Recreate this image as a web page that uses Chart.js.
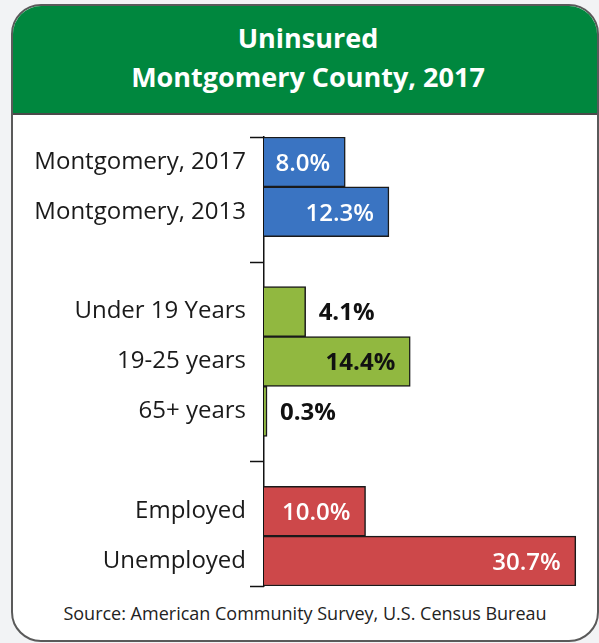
<!DOCTYPE html>
<html>
<head>
<meta charset="utf-8">
<script src="https://cdn.jsdelivr.net/npm/chart.js@4/dist/chart.umd.min.js"></script>
<style>
  body { margin: 0; background: #f2f3f5; font-family: "Open Sans", Lato, sans-serif; }
  #card {
    position: absolute; left: 11px; top: 4px; width: 584px; height: 634px;
    border: 2px solid #5a5a5a; border-radius: 30px; background: #fff; overflow: hidden;
  }
  #head {
    height: 109px; background: #00873e; border-bottom: 2px solid #4a4a4a;
    color: #fff; text-align: center; font-weight: bold; font-size: 27px; line-height: 39px;
    padding-top: 12px; padding-left: 6px; box-sizing: border-box;
  }
  #source {
    position: absolute; left: 0; right: 0; top: 595px; text-align: center;
    font-size: 18px; color: #222;
  }
  #wrap { position: absolute; left: 14px; top: 117px; width: 582px; height: 482px; }
</style>
</head>
<body>
<div id="card">
  <div id="head">Uninsured<br>Montgomery County, 2017</div>
  <div id="source">Source: American Community Survey, U.S. Census Bureau</div>
</div>
<div id="wrap"><canvas id="chart"></canvas></div>
<script>
"use strict"
const categories = ["Montgomery, 2017", "Montgomery, 2013", "", "Under 19 Years", "19-25 years", "65+ years", "", "Employed", "Unemployed"];
const values = [8.0, 12.3, null, 4.1, 14.4, 0.3, null, 10.0, 30.7];
const valueLabels = ["8.0%", "12.3%", "", "4.1%", "14.4%", "0.3%", "", "10.0%", "30.7%"];
const groupBreaks = [-0.5, 2, 6, 8.5];

const barColors = ["#3a74c2", "#3a74c2", "", "#91b840", "#91b840", "#91b840", "", "#cd484a", "#cd484a"];
const labelColors = ["#fff", "#fff", "", "#111", "#111", "#111", "", "#fff", "#fff"];
const labelInside = [true, true, false, false, true, false, false, true, true];

const barLabels = {
    id: "barLabels",
    afterDatasetsDraw(chart) {
        const ctx = chart.ctx;
        const meta = chart.getDatasetMeta(0);
        ctx.save();
        ctx.textBaseline = "middle";
        meta.data.forEach((bar, i) => {
            if (values[i] === null) return;
            const dark = labelColors[i] !== "#fff";
            ctx.font = (dark ? "bold " : "600 ") + "24px 'Open Sans', Lato, sans-serif";
            ctx.fillStyle = labelColors[i];
            if (labelInside[i]) {
                ctx.textAlign = "right";
                ctx.fillText(valueLabels[i], bar.x - 15, bar.y + 2);
            } else {
                ctx.textAlign = "left";
                ctx.fillText(valueLabels[i], bar.x + 13, bar.y + 2);
            }
        });
        ctx.restore();
    }
};

const groupTicks = {
    id: "groupTicks",
    afterDraw(chart) {
        const ctx = chart.ctx;
        const y = chart.scales.y;
        ctx.save();
        ctx.strokeStyle = "#111";
        ctx.lineWidth = 1.5;
        groupBreaks.forEach(v => {
            const py = Math.round(y.getPixelForValue(v)) + 0.5;
            ctx.beginPath();
            ctx.moveTo(y.right - 14, py);
            ctx.lineTo(y.right, py);
            ctx.stroke();
        });
        ctx.restore();
    }
};

new Chart(document.getElementById("chart"), {
    type: "bar",
    plugins: [barLabels, groupTicks],
    data: {
        labels: categories,
        datasets: [{
            data: values,
            backgroundColor: barColors,
            borderColor: "#1a1a1a",
            borderWidth: 1.5,
            categoryPercentage: 1,
            barPercentage: 1
        }]
    },
    options: {
        indexAxis: "y",
        responsive: true,
        maintainAspectRatio: false,
        animation: false,
        layout: { padding: { top: 20, bottom: 13, right: 7, left: 0 } },
        plugins: { legend: { display: false }, tooltip: { enabled: false } },
        scales: {
            x: { display: false, min: 0, max: 32 },
            y: {
                afterFit(scale) {
                    scale.width = 250;
                    scale.paddingTop = 0;
                    scale.paddingBottom = 0;
                },
                grid: { display: false },
                border: { display: true, color: "#111", width: 1.5 },
                ticks: {
                    color: "#1a1a1a",
                    padding: 10,
                    font: { family: "'Open Sans', Lato, sans-serif", size: 24 }
                }
            }
        }
    }
});
</script>
</body>
</html>
